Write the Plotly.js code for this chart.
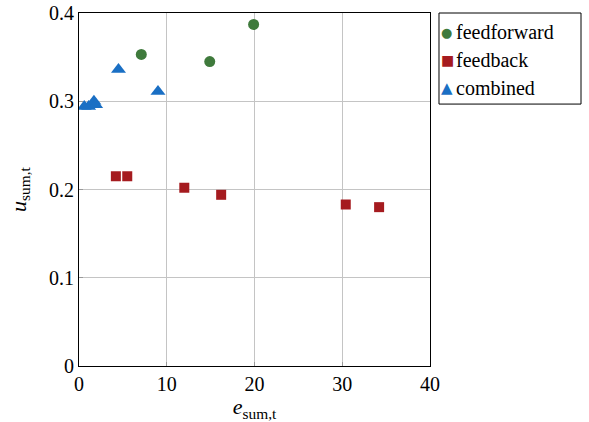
<!DOCTYPE html>
<html><head><meta charset="utf-8">
<script src="https://cdn.plot.ly/plotly-3.0.1.min.js"></script>
<style>html,body{margin:0;padding:0;background:#fff}</style>
</head><body>
<div id="chart" style="width:589px;height:422px"></div>
<script>
const ffX = [7.1, 14.9, 19.9];
const ffY = [0.353, 0.345, 0.387];
const fbX = [4.2, 5.5, 12.0, 16.2, 30.4, 34.2];
const fbY = [0.215, 0.215, 0.202, 0.194, 0.183, 0.180];
const cbX = [0.6, 1.1, 1.7, 1.9, 4.5, 9.0];
const cbY = [0.294, 0.294, 0.300, 0.296, 0.336, 0.311];
const xTicks = [0, 10, 20, 30, 40];
const yTicks = [0, 0.1, 0.2, 0.3, 0.4];
const yTickText = ['0', '0.1', '0.2', '0.3', '0.4'];
const seriesNames = ['feedforward', 'feedback', 'combined'];
const seriesColors = ['#3f7a3c', '#a51b1f', '#1a6fc4'];
const seriesGlyphs = ['●', '■', '▲'];

const fontFam = 'Liberation Serif';
const traces = [
  {x: ffX, y: ffY, mode: 'markers', type: 'scatter', name: seriesNames[0],
   marker: {symbol: 'circle', size: 11, color: seriesColors[0]}},
  {x: fbX, y: fbY, mode: 'markers', type: 'scatter', name: seriesNames[1],
   marker: {symbol: 'square', size: 10, color: seriesColors[1]}},
  {x: cbX, y: cbY, mode: 'markers', type: 'scatter', name: seriesNames[2],
   marker: {symbol: 'triangle-up', size: 13, color: seriesColors[2]}}
];
function axisCommon() {
  return {
    showline: true, linecolor: '#000', linewidth: 1, mirror: true,
    showgrid: true, gridcolor: '#c4c4c4', gridwidth: 1, zeroline: false,
    ticks: 'inside', ticklen: 4, tickcolor: '#999',
    tickfont: {family: fontFam, size: 20, color: '#000'}
  };
}
const rowY = [0.946, 0.867, 0.7875];
const annotations = [];
seriesNames.forEach((n, i) => {
  annotations.push({
    xref: 'paper', yref: 'paper', x: 1.027, y: rowY[i], xanchor: 'left', yanchor: 'middle',
    showarrow: false, text: seriesGlyphs[i],
    font: {family: 'DejaVu Sans', size: i === 2 ? 15 : (i === 1 ? 14 : 13), color: seriesColors[i]}
  });
  annotations.push({
    xref: 'paper', yref: 'paper', x: 1.067, y: rowY[i], xanchor: 'left', yanchor: 'middle',
    showarrow: false, text: n,
    font: {family: fontFam, size: 20, color: '#000'}
  });
});
const layout = {
  width: 589, height: 422,
  margin: {l: 79, r: 159, t: 13, b: 56},
  paper_bgcolor: '#fff', plot_bgcolor: '#fff',
  font: {family: fontFam, color: '#000'},
  xaxis: Object.assign(axisCommon(), {
    range: [0, 40], tickvals: xTicks, ticktext: xTicks.map(String),
    title: {text: '<i>e</i><sub>sum,t</sub>', font: {family: fontFam, size: 22}, standoff: 3}
  }),
  yaxis: Object.assign(axisCommon(), {
    range: [0, 0.4], tickvals: yTicks, ticktext: yTickText,
    title: {text: '<i>u</i><sub>sum,t</sub>', font: {family: fontFam, size: 22}, standoff: 16}
  }),
  showlegend: false,
  shapes: [{type: 'rect', xref: 'paper', yref: 'paper', x0: 1.0256, x1: 1.4302, y0: 0.742, y1: 1.0,
    line: {color: '#000', width: 1}, fillcolor: 'rgba(0,0,0,0)'}],
  annotations: annotations
};
Plotly.newPlot('chart', traces, layout, {displayModeBar: false, staticPlot: true});
</script>
</body></html>
